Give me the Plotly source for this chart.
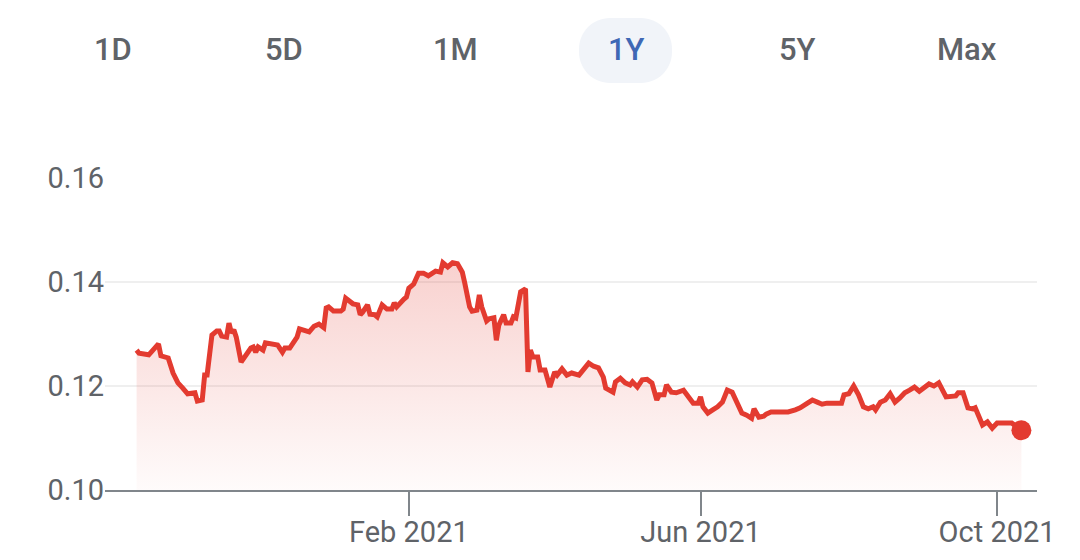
import plotly.graph_objects as go

dates = [
    "2020-10-12", "2020-10-13", "2020-10-17", "2020-10-19", "2020-10-21", "2020-10-22", "2020-10-25", "2020-10-27",
    "2020-10-29", "2020-10-31", "2020-11-02", "2020-11-05", "2020-11-06", "2020-11-08", "2020-11-09", "2020-11-10",
    "2020-11-12", "2020-11-14", "2020-11-15", "2020-11-16", "2020-11-18", "2020-11-19", "2020-11-20", "2020-11-21",
    "2020-11-22", "2020-11-24", "2020-11-26", "2020-11-28", "2020-11-29", "2020-11-30", "2020-12-01", "2020-12-03",
    "2020-12-04", "2020-12-06", "2020-12-09", "2020-12-11", "2020-12-12", "2020-12-14", "2020-12-15", "2020-12-17",
    "2020-12-18", "2020-12-20", "2020-12-22", "2020-12-24", "2020-12-26", "2020-12-28", "2020-12-29", "2020-12-30",
    "2021-01-01", "2021-01-04", "2021-01-05", "2021-01-06", "2021-01-08", "2021-01-09", "2021-01-11", "2021-01-12",
    "2021-01-13", "2021-01-15", "2021-01-16", "2021-01-18", "2021-01-19", "2021-01-21", "2021-01-23", "2021-01-25",
    "2021-01-26", "2021-01-27", "2021-01-30", "2021-01-31", "2021-02-01", "2021-02-03", "2021-02-05", "2021-02-07",
    "2021-02-09", "2021-02-12", "2021-02-14", "2021-02-15", "2021-02-17", "2021-02-19", "2021-02-21", "2021-02-23",
    "2021-02-24", "2021-02-26", "2021-02-27", "2021-03-01", "2021-03-02", "2021-03-03", "2021-03-05", "2021-03-06",
    "2021-03-08", "2021-03-09", "2021-03-10", "2021-03-12", "2021-03-13", "2021-03-15", "2021-03-16", "2021-03-17",
    "2021-03-19", "2021-03-21", "2021-03-22", "2021-03-23", "2021-03-24", "2021-03-26", "2021-03-27", "2021-03-29",
    "2021-03-31", "2021-04-02", "2021-04-03", "2021-04-05", "2021-04-07", "2021-04-09", "2021-04-12", "2021-04-14",
    "2021-04-16", "2021-04-18", "2021-04-20", "2021-04-22", "2021-04-23", "2021-04-26", "2021-04-27", "2021-04-29",
    "2021-05-01", "2021-05-03", "2021-05-04", "2021-05-06", "2021-05-08", "2021-05-10", "2021-05-12", "2021-05-14",
    "2021-05-15", "2021-05-17", "2021-05-18", "2021-05-20", "2021-05-22", "2021-05-25", "2021-05-27", "2021-05-29",
    "2021-05-31", "2021-06-01", "2021-06-02", "2021-06-04", "2021-06-06", "2021-06-08", "2021-06-10", "2021-06-12",
    "2021-06-14", "2021-06-18", "2021-06-20", "2021-06-22", "2021-06-23", "2021-06-25", "2021-06-27", "2021-06-28",
    "2021-06-30", "2021-07-02", "2021-07-05", "2021-07-07", "2021-07-10", "2021-07-12", "2021-07-15", "2021-07-17",
    "2021-07-19", "2021-07-21", "2021-07-23", "2021-07-27", "2021-07-29", "2021-07-30", "2021-08-01", "2021-08-03",
    "2021-08-05", "2021-08-07", "2021-08-09", "2021-08-11", "2021-08-12", "2021-08-14", "2021-08-16", "2021-08-18",
    "2021-08-20", "2021-08-22", "2021-08-24", "2021-08-26", "2021-08-28", "2021-08-30", "2021-08-31", "2021-09-03",
    "2021-09-05", "2021-09-07", "2021-09-10", "2021-09-12", "2021-09-14", "2021-09-15", "2021-09-17", "2021-09-19",
    "2021-09-21", "2021-09-22", "2021-09-25", "2021-09-27", "2021-09-29", "2021-10-01", "2021-10-04", "2021-10-07",
    "2021-10-11",
]

prices = [
    0.1269, 0.1263, 0.1260, 0.1269, 0.1281, 0.1258, 0.1254, 0.1225,
    0.1206, 0.1196, 0.1185, 0.1187, 0.1171, 0.1173, 0.1221, 0.1221,
    0.1298, 0.1306, 0.1306, 0.1296, 0.1294, 0.1321, 0.1302, 0.1308,
    0.1294, 0.1246, 0.1260, 0.1273, 0.1275, 0.1265, 0.1275, 0.1269,
    0.1283, 0.1281, 0.1279, 0.1265, 0.1273, 0.1273, 0.1279, 0.1294,
    0.1310, 0.1308, 0.1304, 0.1315, 0.1319, 0.1312, 0.1350, 0.1352,
    0.1344, 0.1344, 0.1348, 0.1369, 0.1362, 0.1358, 0.1356, 0.1337,
    0.1342, 0.1356, 0.1338, 0.1337, 0.1333, 0.1356, 0.1348, 0.1348,
    0.1360, 0.1352, 0.1367, 0.1371, 0.1388, 0.1396, 0.1417, 0.1417,
    0.1412, 0.1421, 0.1419, 0.1437, 0.1429, 0.1437, 0.1435, 0.1419,
    0.1398, 0.1352, 0.1344, 0.1346, 0.1375, 0.1352, 0.1325, 0.1329,
    0.1331, 0.1288, 0.1317, 0.1337, 0.1321, 0.1321, 0.1333, 0.1331,
    0.1381, 0.1387, 0.1227, 0.1269, 0.1256, 0.1256, 0.1231, 0.1231,
    0.1198, 0.1227, 0.1221, 0.1233, 0.1221, 0.1225, 0.1221, 0.1231,
    0.1244, 0.1238, 0.1235, 0.1217, 0.1196, 0.1188, 0.1208, 0.1215,
    0.1206, 0.1202, 0.1208, 0.1198, 0.1212, 0.1213, 0.1206, 0.1173,
    0.1183, 0.1183, 0.1202, 0.1188, 0.1187, 0.1192, 0.1179, 0.1167,
    0.1167, 0.1179, 0.1160, 0.1148, 0.1154, 0.1160, 0.1169, 0.1192,
    0.1188, 0.1148, 0.1144, 0.1138, 0.1156, 0.1140, 0.1142, 0.1146,
    0.1150, 0.1150, 0.1150, 0.1150, 0.1154, 0.1158, 0.1167, 0.1173,
    0.1169, 0.1165, 0.1167, 0.1167, 0.1167, 0.1183, 0.1185, 0.1200,
    0.1183, 0.1160, 0.1156, 0.1160, 0.1154, 0.1169, 0.1173, 0.1185,
    0.1169, 0.1177, 0.1187, 0.1192, 0.1198, 0.1190, 0.1194, 0.1204,
    0.1200, 0.1206, 0.1179, 0.1181, 0.1181, 0.1187, 0.1187, 0.1158,
    0.1156, 0.1158, 0.1125, 0.1131, 0.1119, 0.1129, 0.1129, 0.1129,
    0.1115,
]

range_buttons = ["1D", "5D", "1M", "1Y", "5Y", "Max"]
selected_button = "1Y"
x_tick_dates = ["2021-02-01", "2021-06-01", "2021-10-01"]
x_tick_labels = ["Feb 2021", "Jun 2021", "Oct 2021"]
y_tick_values = [0.10, 0.12, 0.14, 0.16]

RED = "#e33b30"
GREY_TEXT = "#5f6368"
FONT = "Roboto"

fig = go.Figure()
fig.add_trace(go.Scatter(
    x=dates, y=prices, mode="lines",
    line=dict(color=RED, width=5),
    fill="tozeroy",
    fillgradient=dict(
        type="vertical",
        colorscale=[[0, "rgba(227,59,48,0.02)"], [1, "rgba(227,59,48,0.24)"]],
        start=0.10, stop=0.145,
    ),
    hoverinfo="skip",
))
fig.add_trace(go.Scatter(
    x=[dates[-1]], y=[prices[-1]], mode="markers",
    marker=dict(color=RED, size=20),
    cliponaxis=False, hoverinfo="skip",
))

# plot area geometry (pixels) used for placing the range-selector decorations
L, R, T, B = 105, 43, 178, 70
W, H = 1080 - L - R, 560 - T - B

def px_to_paper_x(px):
    return (px - L) / W

def px_to_paper_y(py):
    return (560 - B - py) / H

btn_centers = [113, 284, 455, 626, 797, 967]
annotations = []
for label, cx in zip(range_buttons, btn_centers):
    annotations.append(dict(
        x=px_to_paper_x(cx), y=px_to_paper_y(50), xref="paper", yref="paper",
        text=label, showarrow=False, xanchor="center", yanchor="middle",
        font=dict(family=FONT, size=31, weight=500,
                  color="#3f68b5" if label == selected_button else GREY_TEXT),
    ))

# rounded pill behind selected button
x0, x1 = px_to_paper_x(579), px_to_paper_x(672)
y0, y1 = px_to_paper_y(83), px_to_paper_y(18)
rx, ry = 31 / W, 31 / H
k = 0.5523
path = (
    f"M {x0+rx},{y0} L {x1-rx},{y0} "
    f"C {x1-rx+k*rx},{y0} {x1},{y0+ry-k*ry} {x1},{y0+ry} "
    f"L {x1},{y1-ry} "
    f"C {x1},{y1-ry+k*ry} {x1-rx+k*rx},{y1} {x1-rx},{y1} "
    f"L {x0+rx},{y1} "
    f"C {x0+rx-k*rx},{y1} {x0},{y1-ry+k*ry} {x0},{y1-ry} "
    f"L {x0},{y0+ry} "
    f"C {x0},{y0+ry-k*ry} {x0+rx-k*rx},{y0} {x0+rx},{y0} Z"
)
shapes = [dict(type="path", path=path, xref="paper", yref="paper",
               fillcolor="#f1f4f9", line=dict(width=0), layer="below")]

fig.update_layout(
    width=1080, height=560,
    margin=dict(l=L, r=R, t=T, b=B, autoexpand=False),
    paper_bgcolor="white", plot_bgcolor="white",
    showlegend=False,
    font=dict(family=FONT, color=GREY_TEXT),
    annotations=annotations,
    shapes=shapes,
    xaxis=dict(
        type="date",
        range=["2020-09-29 00:00", "2021-10-17 10:00"],
        tickvals=x_tick_dates, ticktext=x_tick_labels,
        ticks="outside", ticklen=24, tickwidth=2, tickcolor="#80868b",
        ticklabelstandoff=-9,
        showline=True, linecolor="#80868b", linewidth=2,
        showgrid=False, zeroline=False, automargin=False,
        tickfont=dict(family=FONT, size=29, color=GREY_TEXT),
        fixedrange=True,
    ),
    yaxis=dict(
        range=[0.10, 0.16],
        tickvals=y_tick_values, tickformat=".2f",
        showgrid=True, gridcolor="#efefef", gridwidth=2,
        zeroline=False, showline=False, ticks="", automargin=False,
        tickfont=dict(family=FONT, size=29, color=GREY_TEXT),
        fixedrange=True,
    ),
)

fig.write_html("out.html", config={"displayModeBar": False},
               post_script="document.body.style.margin='0';")
